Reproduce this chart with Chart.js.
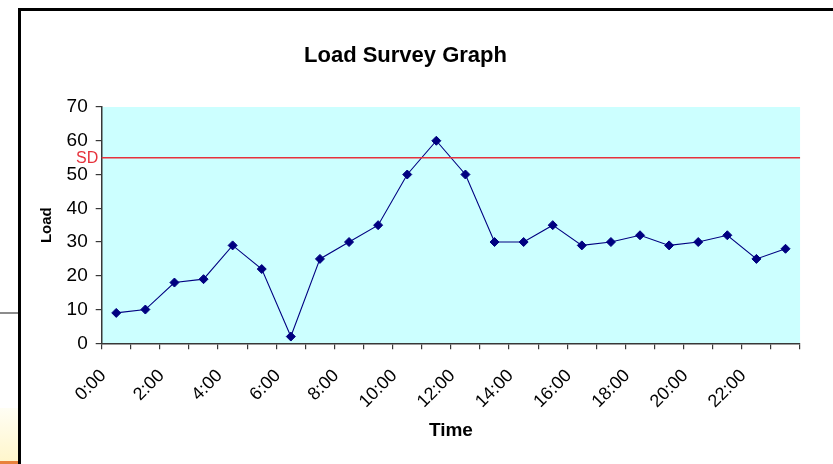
<!DOCTYPE html>
<html>
<head>
<meta charset="utf-8">
<title>Load Survey Graph</title>
<script src="https://cdn.jsdelivr.net/npm/chart.js@4.4.1/dist/chart.umd.min.js"></script>
<style>
  html, body { margin: 0; padding: 0; background: #fff; width: 833px; height: 464px; overflow: hidden; position: relative; }
  #frame { position: absolute; left: 18px; top: 8px; width: 900px; height: 600px; border: 3px solid #000; box-sizing: border-box; background: #fff; }
  #rule { position: absolute; left: 0; top: 312px; width: 18px; height: 2px; background: #8c8c8c; }
  #cell { position: absolute; left: 0; top: 408px; width: 18px; height: 53px; background: linear-gradient(#fffef4, #fff6cc); }
  #edge { position: absolute; left: 0; top: 461px; width: 18px; height: 3px; background: #e8823c; }
  #wrap { position: absolute; left: 0; top: 0; width: 817px; height: 464px; }
</style>
</head>
<body>
<div id="rule"></div>
<div id="cell"></div>
<div id="edge"></div>
<div id="frame"></div>
<div id="wrap"><canvas id="chart" width="817" height="464"></canvas></div>
<script>
// Hourly load readings
const TIMES = ['0:00', '1:00', '2:00', '3:00', '4:00', '5:00', '6:00', '7:00',
               '8:00', '9:00', '10:00', '11:00', '12:00', '13:00', '14:00', '15:00',
               '16:00', '17:00', '18:00', '19:00', '20:00', '21:00', '22:00', '23:00'];
const LOAD = [9, 10, 18, 19, 29, 22, 2, 25, 30, 35, 50, 60,
              50, 30, 30, 35, 29, 30, 32, 29, 30, 32, 25, 28];
const SD_LEVEL = 55;          // sanctioned demand
const Y_MIN = 0, Y_MAX = 70, Y_STEP = 10;

const FONT = '"Liberation Sans", Arial, sans-serif';
const AXIS = '#383838';
const SD_RED = '#e6323c';

Chart.defaults.font.family = FONT;
Chart.defaults.color = '#000';

// Light cyan plot background
const plotFill = {
  id: 'plotFill',
  beforeDraw(chart) {
    const { ctx, chartArea: a } = chart;
    ctx.save();
    ctx.fillStyle = '#ccffff';
    ctx.fillRect(a.left, a.top, a.right - a.left, a.bottom - a.top);
    ctx.restore();
  }
};

// Horizontal SD reference line with its label left of the axis
const sdLine = {
  id: 'sdLine',
  afterDatasetsDraw(chart) {
    const { ctx, chartArea: a, scales: { y } } = chart;
    const py = y.getPixelForValue(SD_LEVEL);
    ctx.save();
    ctx.strokeStyle = SD_RED;
    ctx.lineWidth = 1.5;
    ctx.beginPath();
    ctx.moveTo(a.left, py);
    ctx.lineTo(a.right, py);
    ctx.stroke();
    ctx.fillStyle = SD_RED;
    ctx.font = '16px ' + FONT;
    ctx.textAlign = 'right';
    ctx.textBaseline = 'middle';
    ctx.fillText('SD', a.left - 3.5, py + 1);
    ctx.restore();
  }
};

new Chart(document.getElementById('chart'), {
  type: 'line',
  data: {
    labels: TIMES,
    datasets: [{
      label: 'Load',
      data: LOAD,
      borderColor: '#000080',
      borderWidth: 1.1,
      pointStyle: 'rectRot',
      pointRadius: 4.5,
      pointBackgroundColor: '#000080',
      pointBorderColor: '#000080',
      pointBorderWidth: 1,
      tension: 0
    }]
  },
  options: {
    responsive: false,
    animation: false,
    layout: { padding: { left: 4, right: 10, top: 0, bottom: 0 } },
    plugins: {
      legend: { display: false },
      tooltip: { enabled: false },
      title: {
        display: true,
        text: 'Load Survey Graph',
        color: '#000',
        font: { size: 22, weight: 'bold' },
        padding: { top: 43, bottom: 37.6 }
      }
    },
    scales: {
      x: {
        type: 'category',
        offset: true,
        grid: { offset: true, drawOnChartArea: false, drawTicks: true, tickLength: 6, tickColor: AXIS, lineWidth: 1.2 },
        border: { display: true, color: AXIS, width: 1.5 },
        ticks: {
          autoSkip: false,
          maxRotation: 45,
          minRotation: 45,
          padding: 16,
          labelOffset: -13,
          color: '#000',
          font: { size: 18 },
          callback: (v, i) => (i % 2 === 0 ? TIMES[i] : '')
        },
        title: {
          display: true,
          text: 'Time',
          color: '#000',
          font: { size: 19, weight: 'bold' },
          padding: { top: 0, bottom: 22 }
        },
        afterFit(s) { s.height = 120.7; }
      },
      y: {
        min: Y_MIN,
        max: Y_MAX,
        grid: { drawOnChartArea: false, drawTicks: true, tickLength: 6, tickColor: AXIS, lineWidth: 1.2 },
        border: { display: true, color: AXIS, width: 1.5 },
        ticks: { stepSize: Y_STEP, padding: 8, color: '#000', font: { size: 19 } },
        title: {
          display: true,
          text: 'Load',
          color: '#000',
          font: { size: 15, weight: 'bold' },
          padding: { top: 34, bottom: 0 }
        },
        afterFit(s) { s.width = 97.7; }
      }
    }
  },
  plugins: [plotFill, sdLine]
});
</script>
</body>
</html>
